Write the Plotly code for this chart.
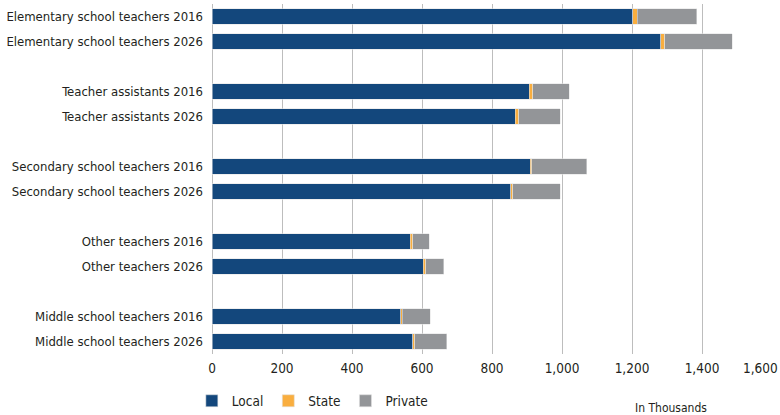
import plotly.graph_objects as go

categories = [
    "Elementary school teachers 2016",
    "Elementary school teachers 2026",
    "Teacher assistants 2016",
    "Teacher assistants 2026",
    "Secondary school teachers 2016",
    "Secondary school teachers 2026",
    "Other teachers 2016",
    "Other teachers 2026",
    "Middle school teachers 2016",
    "Middle school teachers 2026",
]
local = [1202, 1282, 906, 866, 909, 853, 566, 604, 539, 574]
state = [13, 11, 10, 10, 4, 6, 7, 7, 4, 5]
private = [170, 193, 104, 119, 157, 136, 47, 51, 80, 92]
x_ticks = [0, 200, 400, 600, 800, 1000, 1200, 1400, 1600]
x_ticktext = ["0", "200", "400", "600", "800", "1,000", "1,200", "1,400", "1,600"]

# rows grouped in pairs with a blank row between groups
ypos = [i + i // 2 for i in range(len(categories))]

FONT = "DejaVu Sans Condensed, Liberation Sans Narrow, sans-serif"
TICKSIZE = 13.5
line = dict(color="rgba(225,225,225,0.9)", width=0.6)

fig = go.Figure()
for name, vals, col in [("Local", local, "#13477C"),
                        ("State", state, "#F9AE3F"),
                        ("Private", private, "#939598")]:
    fig.add_trace(go.Bar(
        y=ypos, x=vals, name=name, orientation="h",
        marker=dict(color=col, line=line),
        width=0.63,
    ))

# last tick label sits at the right edge of the page: draw it right-aligned
shown_ticktext = x_ticktext[:-1] + [""]

fig.update_layout(
    barmode="stack",
    width=780, height=415,
    margin=dict(l=211.7, r=8.3, t=4.2, b=60.5, autoexpand=False),
    paper_bgcolor="white", plot_bgcolor="white",
    font=dict(family=FONT, size=13, color="#231F20"),
    showlegend=True,
    legend=dict(orientation="h", x=-0.036, xanchor="left", y=-0.09, yanchor="top",
                font=dict(size=13.5), traceorder="normal", itemwidth=30,
                tracegroupgap=0),
    xaxis=dict(range=[0, 1600], tickvals=x_ticks, ticktext=shown_ticktext,
               showgrid=True, gridcolor="#BDBDBD", gridwidth=1,
               zeroline=True, zerolinecolor="#BDBDBD", zerolinewidth=1,
               showline=False, ticks="", tickfont=dict(size=TICKSIZE),
               ticklabelstandoff=4, automargin=False),
    yaxis=dict(range=[13.5, -0.5], tickvals=ypos, ticktext=categories,
               showgrid=False, zeroline=False, showline=False, ticks="",
               ticklabelstandoff=8, tickfont=dict(size=13),
               automargin=False),
    annotations=[
        dict(text="In Thousands", xref="paper", yref="paper",
             x=0.82, y=-0.128, xanchor="center", yanchor="top",
             showarrow=False, font=dict(size=12)),
        dict(text=x_ticktext[-1], xref="x", yref="paper",
             x=x_ticks[-1], y=0, xanchor="right", yanchor="top",
             xshift=8, yshift=-4, showarrow=False,
             font=dict(size=TICKSIZE)),
    ],
)

fig.write_html(
    "out.html",
    config={"displayModeBar": False},
    post_script="document.body.style.margin='0';document.body.style.overflow='hidden';",
)
